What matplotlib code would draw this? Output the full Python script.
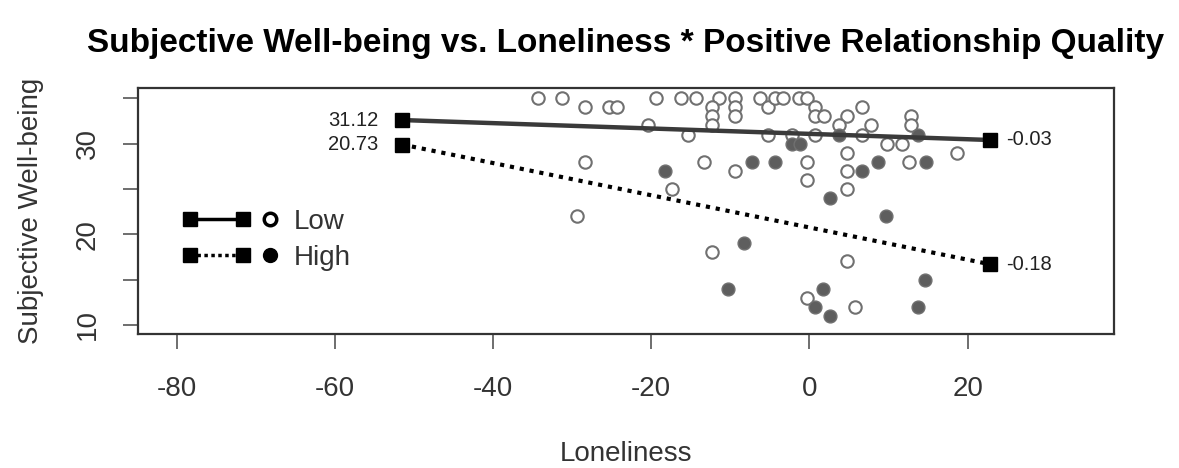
import matplotlib
matplotlib.use("Agg")
import matplotlib.pyplot as plt
from matplotlib.lines import Line2D
from matplotlib.legend_handler import HandlerBase

plt.rcParams['font.family'] = ['Liberation Sans', 'DejaVu Sans']
plt.rcParams['axes.unicode_minus'] = False

# Low positive relationship quality (open circles)
low_x = [-34.3, -31.3, -28.4, -25.4, -24.3, -19.4, -16.3, -14.3, -11.4, -12.3, -12.3, -12.3,
         -9.4, -9.4, -9.4, -6.3, -5.3, -4.3, -3.3, -1.3, -0.3, 0.7, 0.7, 1.8, 4.7, 6.7, 7.8,
         3.8, 12.8, 12.8, -20.4, -15.4, -5.3, -2.2, 0.7, 6.6, 9.8, 11.7, 4.7, 18.7, -28.4,
         -13.3, -0.3, 12.6, -9.4, 4.7, -0.3, -17.4, 4.7, -29.4, -12.3, 4.7, -0.3, 5.8]
low_y = [35, 35, 34, 34, 34, 35, 35, 35, 35, 34, 33, 32,
         35, 34, 33, 35, 34, 35, 35, 35, 35, 34, 33, 33, 33, 34, 32,
         32, 33, 32, 32, 31, 31, 31, 31, 31, 30, 30, 29, 29, 28,
         28, 28, 28, 27, 27, 26, 25, 25, 22, 18, 17, 13, 12]

# High positive relationship quality (filled circles)
high_x = [-18.3, -2.2, -1.2, 3.8, 13.7, -7.3, -4.3, 8.7, 14.7, 6.6, 2.6, 9.7,
          -8.3, 14.6, -10.3, 1.7, 0.7, 13.7, 2.6]
high_y = [27, 30, 30, 31, 31, 28, 28, 28, 28, 27, 24, 22,
          19, 15, 14, 14, 12, 12, 11]

# simple slopes
line_x = [-51.5, 22.8]
low_fit = [32.6, 30.4]
high_fit = [29.9, 16.7]
intercept_labels = ["31.12", "20.73"]
slope_labels = ["-0.03", "-0.18"]


class LinePointHandler(HandlerBase):
    # legend key: line with squares at both ends, then the point symbol
    def create_artists(self, legend, orig_handle, xdescent, ydescent, width, height, fontsize, trans):
        line_h, pt_h = orig_handle
        x0 = -xdescent
        y = -ydescent + height / 2
        line = Line2D([x0 + 0.074 * width, x0 + 0.64 * width], [y, y])
        line.update_from(line_h)
        line.set_transform(trans)
        pt = Line2D([x0 + 0.926 * width], [y])
        pt.update_from(pt_h)
        pt.set_transform(trans)
        return [line, pt]


fig = plt.figure(figsize=(11.79, 4.68), dpi=100)
ax = fig.add_axes([0.117, 0.2863, 0.8278, 0.525])

ax.scatter(low_x, low_y, s=80, facecolors='white', edgecolors='#707070', linewidths=1.5, zorder=2)
ax.scatter(high_x, high_y, s=85, facecolors='#5e5e5e', edgecolors='#707070', linewidths=1.0, zorder=2)

ax.plot(line_x, low_fit, color='#3a3a3a', lw=3.2, solid_capstyle='butt', zorder=3)
ax.plot(line_x, high_fit, color='black', lw=3, linestyle=(0, (1, 1.4)), dash_capstyle='butt', zorder=3)
ax.plot(line_x, low_fit, 's', color='black', ms=10.5, zorder=4)
ax.plot(line_x, high_fit, 's', color='black', ms=10.5, zorder=4)

for fit, lab_l, lab_r in zip([low_fit, high_fit], intercept_labels, slope_labels):
    ax.annotate(lab_l, (line_x[0], fit[0]), xytext=(-17, 0), textcoords='offset points',
                ha='right', va='center', fontsize=14.5, color='#222222')
    ax.annotate(lab_r, (line_x[1], fit[1]), xytext=(12, 0), textcoords='offset points',
                ha='left', va='center', fontsize=14.5, color='#222222')

ax.set_xlim(-84.9, 38.5)
ax.set_ylim(9.0, 36.1)
ax.set_xticks([-80, -60, -40, -20, 0, 20])
ax.set_yticks([10, 15, 20, 25, 30, 35])
ax.set_yticklabels(['10', '', '20', '', '30', ''], rotation=90, va='center')
ax.tick_params(axis='both', length=11, width=1.2, color='#555555', labelcolor='#333333',
               labelsize=20, direction='out')
ax.tick_params(axis='x', pad=19)
ax.tick_params(axis='y', pad=16)
for sp in ax.spines.values():
    sp.set_linewidth(1.6)
    sp.set_color('#333333')

ax.set_xlabel("Loneliness", fontsize=20, color='#333333', labelpad=28)
ax.set_ylabel("Subjective Well-being", fontsize=20, color='#333333', labelpad=22)
ax.set_title("Subjective Well-being vs. Loneliness * Positive Relationship Quality",
             fontsize=24, fontweight='bold', pad=26)

h_low_line = Line2D([], [], color='black', lw=2.5, marker='s', ms=10.5)
h_high_line = Line2D([], [], color='black', lw=2.5, linestyle=(0, (1, 1)), marker='s', ms=10.5)
h_low_pt = Line2D([], [], ls='none', marker='o', ms=9, mfc='white', mec='black', mew=2.5)
h_high_pt = Line2D([], [], ls='none', marker='o', ms=10, mfc='black', mec='black')
ax.legend([(h_low_line, h_low_pt), (h_high_line, h_high_pt)], ["Low", "High"],
          handler_map={tuple: LinePointHandler()},
          loc='center left', bbox_to_anchor=(0.046, 0.383), frameon=False,
          fontsize=20, handlelength=3.4, handletextpad=0.6, labelspacing=0.36,
          borderpad=0, borderaxespad=0, labelcolor='#333333')

fig.savefig("out.png", dpi=100)
